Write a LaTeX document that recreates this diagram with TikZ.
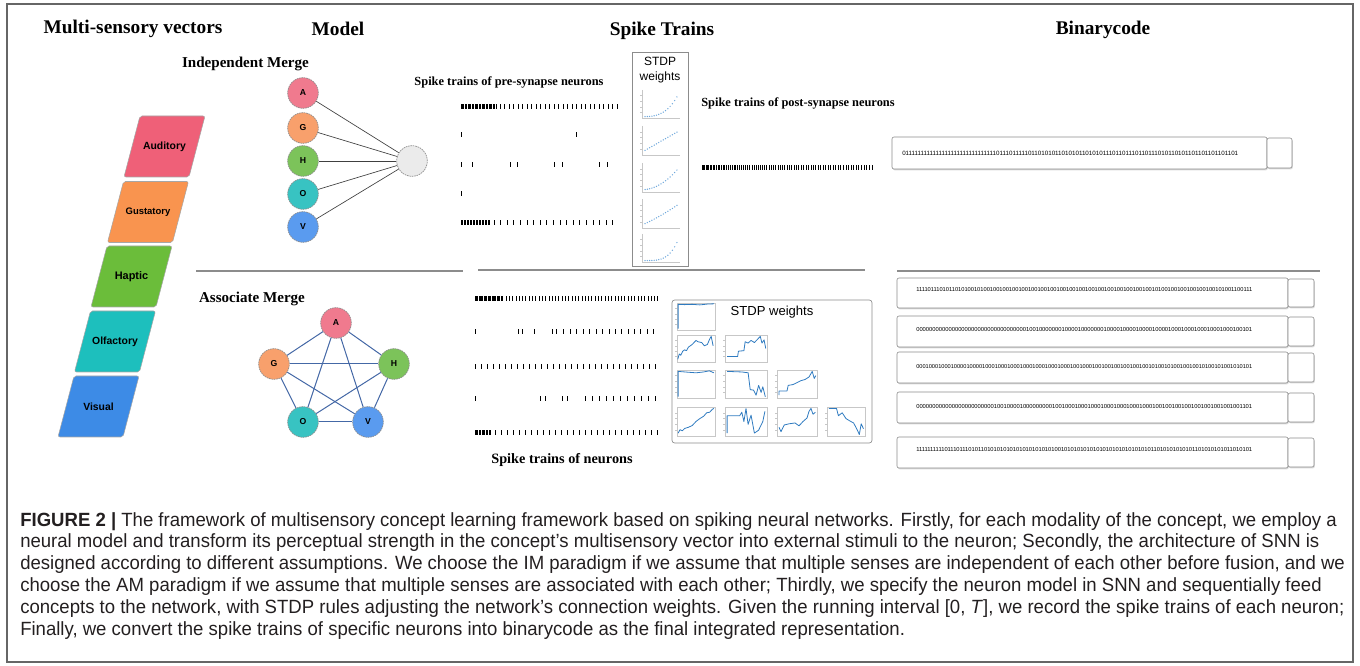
\documentclass[tikz,border=0pt]{standalone}
\usepackage{graphicx}
\usepackage{fontspec}
\setmainfont{Liberation Serif}
\setsansfont{Liberation Sans}
\newfontfamily\capfont[FakeStretch=0.97]{Liberation Sans}
\usetikzlibrary{shadows}

\definecolor{audc}{HTML}{EF6078}
\definecolor{gusc}{HTML}{F9944F}
\definecolor{hapc}{HTML}{6BBD3A}
\definecolor{olfc}{HTML}{1DBFBD}
\definecolor{visc}{HTML}{3D8BE6}
\definecolor{cA}{HTML}{F07A8E}
\definecolor{cG}{HTML}{F8A06C}
\definecolor{cH}{HTML}{7CC35A}
\definecolor{cO}{HTML}{38C3C2}
\definecolor{cV}{HTML}{5A9BEF}
\definecolor{amedgec}{HTML}{4468A6}
\definecolor{capc}{HTML}{231F20}
\definecolor{sepc}{HTML}{8C8C8C}
\definecolor{wline}{HTML}{2F7BC0}
\definecolor{wdot}{HTML}{6FA8DC}

% one spike raster row: #1 = row y, #2 = spike x positions
\newcommand\spikerow[2]{\foreach \s in {#2} \draw[spike] (\s,#1-2.5) -- (\s,#1+2.5);}

% small weight-trace panel: #1,#2 lower-left corner, #3 width, #4 height, #5 x/y pairs in [0,1]
\newcommand\traceplot[5]{%
  \begin{scope}[shift={(#1,#2)},xscale=#3,yscale=-#4]
    \draw[miniframe] (0,0) rectangle (1,1);
    \foreach \t in {0.2,0.4,0.6,0.8} \draw[miniframe] (0,\t) -- (-0.04,\t);
    \draw[traceline] plot coordinates {#5};
  \end{scope}}

% small dotted weight panel: #5 = curve height as a function of \t
\newcommand\dotplot[5]{%
  \begin{scope}[shift={(#1,#2)},xscale=#3,yscale=-#4]
    \draw[miniframe] (0,1) -- (0,0) -- (1,0);
    \foreach \t in {0.2,0.4,0.6,0.8} \draw[miniframe] (0,\t) -- (-0.04,\t);
    \foreach \t in {0.08,0.14,...,0.96} \node[wdotn] at (\t,{#5}) {};
  \end{scope}}

% binary code strip: #1 name, #2 left, #3 top, #4 right of main part, #5 bottom, #6 right end
\newcommand\codestrip[6]{%
  \draw[stripbox] (#2,#3) rectangle (#4,#5);
  \draw[stripbox] (#4,#3+1) rectangle (#6,#5-1);
  \coordinate (#1) at (#2,{(#3+#5)/2});}

% a code string set to a fixed width
\newcommand\codetext[1]{\resizebox{252pt}{!}{#1}}

\begin{document}
\begin{tikzpicture}[x=0.75pt,y=-0.75pt,
  head/.style={font=\fontsize{14.5}{17}\selectfont\bfseries},
  subhead/.style={font=\fontsize{11.3}{13}\selectfont\bfseries},
  trainlab/.style={font=\fontsize{9.3}{11}\selectfont\bfseries},
  sense/.style={draw=black!35, line width=0.4pt, rounded corners=1.5pt},
  senselab/.style={font=\sffamily\bfseries\fontsize{7.8}{9}\selectfont},
  neuron/.style={circle, minimum size=23pt, inner sep=0pt, draw=black!45,
    dash pattern=on 1.2pt off 0.6pt, line width=0.5pt,
    font=\sffamily\bfseries\fontsize{6.5}{7}\selectfont},
  imedge/.style={draw=black!75, line width=0.5pt},
  amedge/.style={draw=amedgec, line width=0.75pt},
  sepline/.style={draw=sepc, line width=2pt},
  spike/.style={line width=0.55pt, black},
  miniframe/.style={draw=black!22, line width=0.3pt},
  traceline/.style={draw=wline, line width=0.6pt, line join=round},
  wdotn/.style={circle, fill=wdot, inner sep=0pt, minimum size=1.1pt},
  panel/.style={draw=black!45, line width=0.5pt},
  stripbox/.style={draw=black!45, line width=0.45pt, rounded corners=1.5pt,
    fill=white, drop shadow={shadow xshift=0.6pt, shadow yshift=-1pt, opacity=0.3}},
  code/.style={font=\sffamily\fontsize{4.4}{5}\selectfont, anchor=west, inner sep=0pt},
  capline/.style={font=\capfont\fontsize{14.35}{16}\selectfont, text=capc, anchor=base west, inner sep=0pt}
]
\useasboundingbox (0,0) rectangle (1360,666);
\draw[draw=black!60, line width=1.1pt] (7,4) rectangle (1353,662);

% column headings
\node[head] (hvec) at (133,29) {Multi-sensory vectors};
\node[head] (hmod) at (338,29) {Model};
\node[head] (hspk) at (662,31) {Spike Trains};
\node[head] (hbin) at (1103,30) {Binarycode};

% multi-sensory vector as a stack of slanted bars
\foreach \L/\T/\c [count=\i] in {140/116/audc,123.5/181.5/gusc,107/246/hapc,90.5/311/olfc,74/376/visc}
  \draw[sense, fill=\c] (\L,\T) -- (\L+65,\T) -- (\L+49,\T+61) -- (\L-16,\T+61) -- cycle;
\node[senselab] (saud) at (164.5,146.5) {Auditory};
\node[senselab, font=\sffamily\bfseries\fontsize{7.1}{9}\selectfont] (sgus) at (148,212) {Gustatory};
\node[senselab, font=\sffamily\bfseries\fontsize{8.2}{9}\selectfont] (shap) at (131.5,276.5) {Haptic};
\node[senselab] (solf) at (115,341.5) {Olfactory};
\node[senselab] (svis) at (98.5,406.5) {Visual};

% independent merge
\node[subhead] (imtitle) at (245.5,64) {Independent Merge};
\node[neuron, fill=cA] (iA) at (303,93) {A};
\node[neuron, fill=cG] (iG) at (303,128) {G};
\node[neuron, fill=cH] (iH) at (303,161) {H};
\node[neuron, fill=cO] (iO) at (303,194) {O};
\node[neuron, fill=cV] (iV) at (303,227) {V};
\node[neuron, fill=black!8] (iout) at (412,161) {};
\foreach \n in {iA,iG,iH,iO,iV} \draw[imedge] (\n) -- (iout);

% associate merge
\node[subhead] (amtitle) at (252,299) {Associate Merge};
\node[neuron, fill=cA] (aA) at (336,323) {A};
\node[neuron, fill=cG] (aG) at (274,364) {G};
\node[neuron, fill=cH] (aH) at (394,364) {H};
\node[neuron, fill=cO] (aO) at (303,422) {O};
\node[neuron, fill=cV] (aV) at (368,422) {V};
\foreach \u/\v in {aA/aG,aA/aH,aA/aO,aA/aV,aG/aH,aG/aO,aG/aV,aH/aO,aH/aV,aO/aV}
  \draw[amedge] (\u) -- (\v);

% section separators
\draw[sepline] (196,271) -- (463,271);
\draw[sepline] (478,270) -- (865,270);
\draw[sepline] (897,271) -- (1320,271);

% pre-synapse spike trains
\node[trainlab] (prelab) at (509,82) {Spike trains of pre-synapse neurons};
\spikerow{107}{461,462.4,...,496,500,504.5,...,620}
\spikerow{135}{461,576}
\spikerow{165}{461,472,510,517,554,562,599,607}
\spikerow{194}{461}
\spikerow{223}{461,462.5,...,490,494,500.6,...,614}

% STDP weights of the independent merge
\draw[panel] (632,52) rectangle (688,266);
\node[font=\sffamily\fontsize{9}{10}\selectfont] (wlab1) at (660,61) {STDP};
\node[font=\sffamily\fontsize{9}{10}\selectfont] (wlab2) at (660,77) {weights};
\dotplot{642}{118}{38}{28}{0.05+0.9*\t*\t*\t}
\dotplot{642}{155}{38}{29}{0.1+0.75*\t}
\dotplot{642}{192}{38}{29}{0.08+0.8*\t*\t}
\dotplot{642}{228}{38}{29}{0.1+0.6*\t+0.15*\t*\t}
\dotplot{642}{262}{38}{28}{0.05+0.9*\t*\t*\t*\t}

% post-synapse spike train
\node[trainlab] (postlab) at (798,103) {Spike trains of post-synapse neurons};
\foreach \k in {0,...,80} \draw[spike] ({702+170*pow(\k/80,1.25)},165.5) -- ({702+170*pow(\k/80,1.25)},170.5);

% associate merge spike trains
\spikerow{299}{475,476.3,...,503,506,509.3,...,658}
\spikerow{332}{475,518,522,534,552,556,563,570,576,583,589,596,602,609,615,621,628,634,640,647,653}
\spikerow{367}{475,481,...,655}
\spikerow{399}{475,540,545,562,567,585,592,599,606,613,620,627,634,641,648,655}
\spikerow{433}{475,476.4,...,491,495,501,...,657}
\node[trainlab, font=\fontsize{10.7}{12}\selectfont\bfseries] (amlab) at (562,460) {Spike trains of neurons};

% STDP weights of the associate merge
\draw[panel, rounded corners=2pt] (672,300) rectangle (872,443);
\node[font=\sffamily\fontsize{9.8}{11}\selectfont] (wlab3) at (772,312) {STDP weights};
\traceplot{677}{330}{38}{27}{(0.03,0.05) (0.03,0.95) (0.2,0.94) (0.4,0.95) (0.6,0.93) (0.8,0.96) (0.97,0.97)}
\traceplot{677}{362}{38}{27}{(0.02,0.1) (0.06,0.3) (0.1,0.25) (0.15,0.4) (0.2,0.45) (0.25,0.42) (0.3,0.55) (0.4,0.65) (0.5,0.8) (0.55,0.75) (0.65,0.72) (0.72,0.6) (0.8,0.65) (0.86,0.85) (0.9,0.95) (0.95,0.6)}
\traceplot{725}{362}{42}{27}{(0.05,0.2) (0.3,0.2) (0.32,0.4) (0.45,0.42) (0.48,0.75) (0.55,0.7) (0.62,0.8) (0.7,0.72) (0.78,0.85) (0.84,0.95) (0.88,0.7) (0.93,0.82) (0.97,0.5)}
\traceplot{677}{398}{38}{28}{(0.03,0.05) (0.03,0.95) (0.3,0.92) (0.5,0.9) (0.7,0.93) (0.85,0.97) (0.97,0.9)}
\traceplot{725}{398}{42}{28}{(0.05,0.95) (0.4,0.93) (0.55,0.9) (0.6,0.3) (0.68,0.28) (0.74,0.1) (0.8,0.45) (0.86,0.2) (0.9,0.4) (0.96,0.04)}
\traceplot{777}{398}{40}{28}{(0.05,0.1) (0.05,0.25) (0.25,0.25) (0.28,0.45) (0.4,0.48) (0.5,0.55) (0.6,0.62) (0.7,0.66) (0.8,0.75) (0.88,0.95) (0.93,0.7) (0.97,0.8)}
\traceplot{677}{436}{38}{29}{(0.03,0.1) (0.08,0.22) (0.14,0.18) (0.2,0.26) (0.3,0.3) (0.4,0.36) (0.5,0.5) (0.6,0.6) (0.7,0.68) (0.78,0.8) (0.86,0.82) (0.93,0.92) (0.97,0.95)}
\traceplot{725}{436}{42}{29}{(0.05,0.1) (0.05,0.7) (0.35,0.7) (0.4,0.82) (0.45,0.5) (0.5,0.95) (0.55,0.4) (0.62,0.72) (0.7,0.1) (0.8,0.2) (0.9,0.5) (0.95,0.85)}
\traceplot{777}{436}{40}{29}{(0.05,0.3) (0.1,0.15) (0.18,0.38) (0.3,0.42) (0.45,0.45) (0.55,0.35) (0.65,0.5) (0.75,0.62) (0.8,0.85) (0.85,0.95) (0.9,0.75) (0.96,0.82)}
\traceplot{827}{436}{38}{29}{(0.05,0.95) (0.25,0.95) (0.3,0.7) (0.4,0.8) (0.5,0.6) (0.6,0.52) (0.7,0.45) (0.8,0.2) (0.85,0.05) (0.9,0.42) (0.96,0.25)}

% binary codes
\codestrip{bc0}{892}{137}{1267}{169}{1292}
\node[code] (bt0) at (902,153) {\codetext{01111111111111111111111111111110111011111011010101101010110101011101101110110111010110101101101101101101}};
\codestrip{bc1}{897}{278}{1288}{308}{1314}
\node[code] (bt1) at (916,290) {\codetext{11110111010110101001010010010010010010010010010010010010010010010010010010010100100100100100100101001100111}};
\codestrip{bc2}{897}{316}{1288}{347}{1314}
\node[code] (bt2) at (916,330) {\codetext{00000000000000000000000000000000001001000000010000100000001000010000100001000010001000100010001000100101}};
\codestrip{bc3}{897}{352}{1288}{383}{1314}
\node[code] (bt3) at (916,367) {\codetext{00010001000100001000010001000100010001000100010001001000100100100100100100101001010010010010100101001010101}};
\codestrip{bc4}{897}{392}{1288}{423}{1314}
\node[code] (bt4) at (916,406) {\codetext{00000000000000000000000010010000100000000010010001000100010001000100010001001001001001001001001001001101}};
\codestrip{bc5}{897}{437}{1288}{468}{1314}
\node[code] (bt5) at (916,450) {\codetext{11111111110111011101011010101010101010101010100101010101010101010101010101011010101010101101010101011010101}};

% caption
\node[capline] (cap1) at (20,526) {\textbf{FIGURE 2 |} The framework of multisensory concept learning framework based on spiking neural networks. Firstly, for each modality of the concept, we employ a};
\node[capline] (cap2) at (20,547.8) {neural model and transform its perceptual strength in the concept’s multisensory vector into external stimuli to the neuron; Secondly, the architecture of SNN is};
\node[capline] (cap3) at (20,569.6) {designed according to different assumptions. We choose the IM paradigm if we assume that multiple senses are independent of each other before fusion, and we};
\node[capline] (cap4) at (20,591.4) {choose the AM paradigm if we assume that multiple senses are associated with each other; Thirdly, we specify the neuron model in SNN and sequentially feed};
\node[capline] (cap5) at (20,613.2) {concepts to the network, with STDP rules adjusting the network’s connection weights. Given the running interval [0, \textit{T}], we record the spike trains of each neuron;};
\node[capline] (cap6) at (20,635) {Finally, we convert the spike trains of specific neurons into binarycode as the final integrated representation.};
\end{tikzpicture}
\end{document}
